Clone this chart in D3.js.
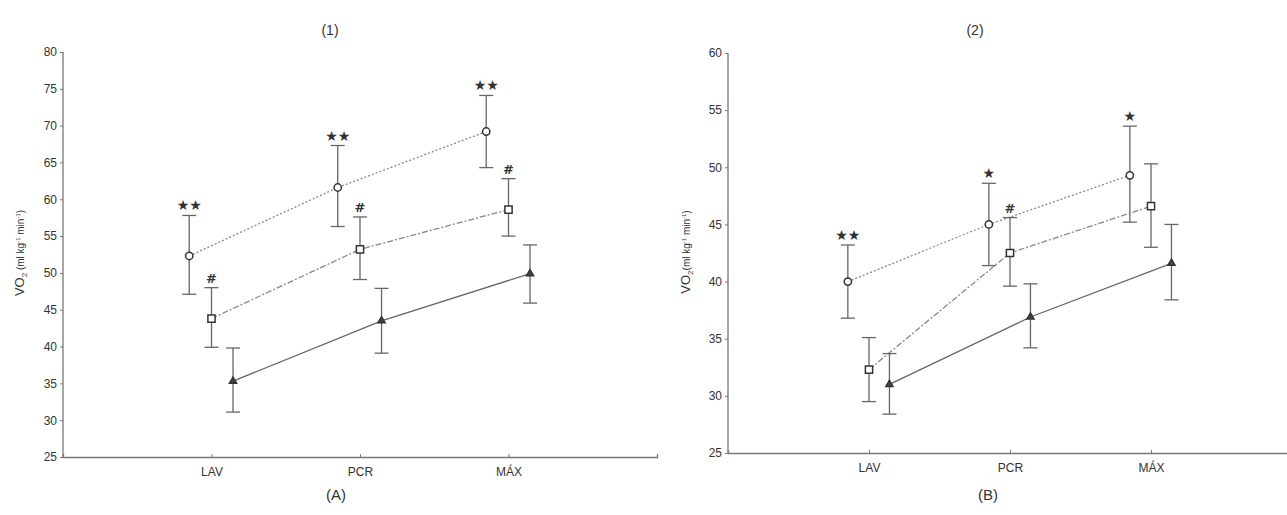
<!DOCTYPE html>
<html>
<head>
<meta charset="utf-8">
<script src="https://cdn.jsdelivr.net/npm/d3@7"></script>
<style>
body { margin: 0; background: #fff; }
svg text { font-family: "Liberation Sans", Arial, sans-serif; fill: #333; }
</style>
</head>
<body>
<div class="chart"></div>
<script>
let svgWidth = 1287;
let svgHeight = 515;

let categories = ["LAV", "PCR", "MÁX"];
let groups = ["circle", "square", "triangle"];

// panel (1)
let meanA = {
    circle: [52.3, 61.6, 69.2],
    square: [43.8, 53.2, 58.6],
    triangle: [35.3, 43.5, 49.9]
};
let upperA = {
    circle: [57.8, 67.3, 74.1],
    square: [48.0, 57.6, 62.8],
    triangle: [39.8, 47.9, 53.8]
};
let lowerA = {
    circle: [47.1, 56.3, 64.3],
    square: [39.9, 49.1, 55.0],
    triangle: [31.1, 39.1, 45.9]
};
let marksA = {
    circle: ["★★", "★★", "★★"],
    square: ["#", "#", "#"],
    triangle: ["", "", ""]
};

// panel (2)
let meanB = {
    circle: [40.0, 45.0, 49.3],
    square: [32.3, 42.5, 46.6],
    triangle: [31.0, 36.9, 41.6]
};
let upperB = {
    circle: [43.2, 48.6, 53.6],
    square: [35.1, 45.6, 50.3],
    triangle: [33.7, 39.8, 45.0]
};
let lowerB = {
    circle: [36.8, 41.4, 45.2],
    square: [29.5, 39.6, 43.0],
    triangle: [28.4, 34.2, 38.4]
};
let marksB = {
    circle: ["★★", "★", "★"],
    square: ["", "#", ""],
    triangle: ["", "", ""]
};

let ticksA = [25, 30, 35, 40, 45, 50, 55, 60, 65, 70, 75, 80];
let ticksB = [25, 30, 35, 40, 45, 50, 55, 60];

let offsets = { circle: -0.15, square: 0, triangle: 0.145 };
let dashes = { circle: "2,2", square: "6,2,2,2", triangle: null };

let svg = d3.select(".chart")
    .append("svg")
    .attr("width", svgWidth)
    .attr("height", svgHeight);

function drawPanel(opt) {
    let g = svg.append("g");
    let x = d3.scaleLinear().domain([0, 4]).range([opt.left, opt.right]);
    let y = d3.scaleLinear().domain([25, opt.ymax]).range([opt.bottom, opt.top]);

    // axes
    let yAxis = g.append("g")
        .attr("transform", `translate(${opt.left},0)`)
        .call(d3.axisLeft(y).tickValues(opt.ticks).tickSize(3).tickPadding(3));
    let xAxis = g.append("g")
        .attr("transform", `translate(0,${opt.bottom})`)
        .call(d3.axisBottom(x).tickValues([1, 2, 3]).tickFormat(d => categories[d - 1]).tickSize(-3).tickPadding(10));
    [xAxis, yAxis].forEach(a => {
        a.select(".domain").attr("stroke", "#777").attr("stroke-width", 1.3);
        a.selectAll(".tick line").attr("stroke", "#777");
        a.selectAll(".tick text").style("font-size", "12px").attr("fill", "#555");
    });
    yAxis.select(".domain").attr("d", `M-0,${opt.bottom}V${opt.top}`);

    groups.forEach(k => {
        let pts = opt.mean[k].map((v, i) => ({
            x: x(i + 1 + offsets[k]),
            y: y(v),
            hi: y(opt.upper[k][i]),
            lo: y(opt.lower[k][i]),
            mark: opt.marks[k][i]
        }));
        let line = d3.line().x(d => d.x).y(d => d.y);
        g.append("path")
            .attr("d", line(pts))
            .attr("fill", "none")
            .attr("stroke", k === "triangle" ? "#666" : "#888")
            .attr("stroke-width", 1.3)
            .attr("stroke-dasharray", dashes[k]);

        let eb = g.append("g").attr("stroke", "#666").attr("stroke-width", 1.3);
        pts.forEach(d => {
            eb.append("line").attr("x1", d.x).attr("x2", d.x).attr("y1", d.hi).attr("y2", d.lo);
            eb.append("line").attr("x1", d.x - 7).attr("x2", d.x + 7).attr("y1", d.hi).attr("y2", d.hi);
            eb.append("line").attr("x1", d.x - 7).attr("x2", d.x + 7).attr("y1", d.lo).attr("y2", d.lo);
        });

        let sym = k === "circle" ? d3.symbolCircle : k === "square" ? d3.symbolSquare : d3.symbolTriangle;
        let size = k === "circle" ? 42 : k === "square" ? 52 : 22;
        g.selectAll(".m-" + k)
            .data(pts)
            .enter()
            .append("path")
            .attr("transform", d => `translate(${d.x},${d.y})`)
            .attr("d", d3.symbol().type(sym).size(size))
            .attr("fill", k === "triangle" ? "#444" : "#fff")
            .attr("stroke", "#333")
            .attr("stroke-width", 1.5);

        g.selectAll(".t-" + k)
            .data(pts.filter(d => d.mark))
            .enter()
            .append("text")
            .attr("x", d => d.x)
            .attr("y", d => d.hi - 5)
            .attr("text-anchor", "middle")
            .style("font-family", "DejaVu Sans")
            .style("font-size", d => d.mark === "#" ? "13px" : "14px")
            .style("font-weight", "bold")
            .attr("fill", d => d.mark === "#" ? "#444" : "#222")
            .text(d => d.mark);
    });

    // panel title and caption
    g.append("text")
        .attr("x", opt.titleX).attr("y", 35)
        .attr("text-anchor", "middle")
        .style("font-size", "14px")
        .text(opt.title);
    g.append("text")
        .attr("x", opt.capX).attr("y", 500)
        .attr("text-anchor", "middle")
        .style("font-size", "15px")
        .text(opt.caption);

    // y label
    let lab = g.append("text")
        .attr("transform", `translate(${opt.labX},${opt.labY}) rotate(-90)`)
        .attr("text-anchor", "middle")
        .style("font-size", "13px")
        .attr("fill", "#444");
    lab.append("tspan").text("VO");
    lab.append("tspan").attr("dy", 3).style("font-size", "8px").text("2");
    lab.append("tspan").attr("dy", -3).style("font-size", "10px").text(opt.gap ? " (ml kg" : "(ml kg");
    lab.append("tspan").attr("dy", -4).style("font-size", "6px").text("-1");
    lab.append("tspan").attr("dy", 4).style("font-size", "10px").text(" min");
    lab.append("tspan").attr("dy", -4).style("font-size", "6px").text("-1");
    lab.append("tspan").attr("dy", 4).style("font-size", "10px").text(")");
}

drawPanel({
    left: 63, right: 657, top: 52, bottom: 457, ymax: 80, ticks: ticksA,
    mean: meanA, upper: upperA, lower: lowerA, marks: marksA,
    title: "(1)", titleX: 330, caption: "(A)", capX: 336,
    labX: 24, labY: 253, gap: true
});

drawPanel({
    left: 728, right: 1292, top: 53, bottom: 453, ymax: 60, ticks: ticksB,
    mean: meanB, upper: upperB, lower: lowerB, marks: marksB,
    title: "(2)", titleX: 975, caption: "(B)", capX: 988,
    labX: 690, labY: 252, gap: false
});
</script>
</body>
</html>
